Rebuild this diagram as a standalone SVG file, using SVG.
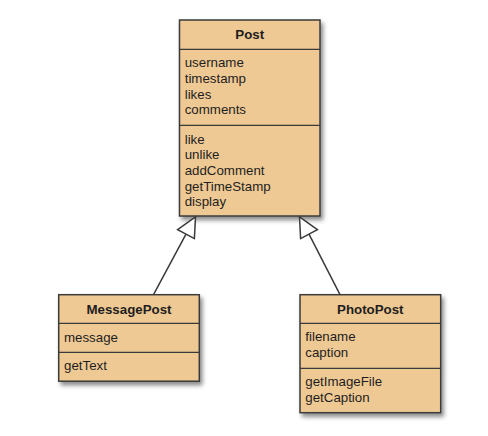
<svg xmlns="http://www.w3.org/2000/svg" width="488" height="436" viewBox="0 0 488 436">
<defs>
<filter id="sh" x="-10%" y="-10%" width="130%" height="130%">
<feDropShadow dx="2.5" dy="3.5" stdDeviation="2.2" flood-color="#000" flood-opacity="0.45"/>
</filter>
</defs>
<style>
.box{fill:#EFC994;stroke:#3a3a3a;stroke-width:1.5}
.div{stroke:#3a3a3a;stroke-width:1.3}
text{font-family:"Liberation Sans",Arial,sans-serif;font-size:13.3px;fill:#1e1e1e}
.t{font-weight:bold;text-anchor:middle}
.edge{stroke:#3a3a3a;stroke-width:1.5;fill:none}
.head{fill:#fff;stroke:#3a3a3a;stroke-width:1.5;stroke-linejoin:miter}
</style>
<rect width="488" height="436" fill="#fff"/>
<g id="Post">
<rect class="box" x="179.5" y="20" width="140.5" height="196" filter="url(#sh)"/>
<line class="div" x1="179.5" y1="49.3" x2="320" y2="49.3"/>
<line class="div" x1="179.5" y1="125.3" x2="320" y2="125.3"/>
<text class="t" x="249.7" y="39.4">Post</text>
<text x="184.7" y="67.2">username</text>
<text x="184.7" y="82.9">timestamp</text>
<text x="184.7" y="98.5">likes</text>
<text x="184.7" y="114.2">comments</text>
<text x="184.7" y="143.5">like</text>
<text x="184.7" y="159.2">unlike</text>
<text x="184.7" y="174.8">addComment</text>
<text x="184.7" y="190.5">getTimeStamp</text>
<text x="184.7" y="206.2">display</text>
</g>
<g id="MessagePost">
<rect class="box" x="58.7" y="294.7" width="140.6" height="86.5" filter="url(#sh)"/>
<line class="div" x1="58.7" y1="323.3" x2="199.3" y2="323.3"/>
<line class="div" x1="58.7" y1="352.3" x2="199.3" y2="352.3"/>
<text class="t" x="129" y="313.7">MessagePost</text>
<text x="64" y="341.5">message</text>
<text x="64" y="370.4">getText</text>
</g>
<g id="PhotoPost">
<rect class="box" x="300" y="294.7" width="140.7" height="118" filter="url(#sh)"/>
<line class="div" x1="300" y1="323.3" x2="440.7" y2="323.3"/>
<line class="div" x1="300" y1="368.3" x2="440.7" y2="368.3"/>
<text class="t" x="370.3" y="313.7">PhotoPost</text>
<text x="305.3" y="341.4">filename</text>
<text x="305.3" y="357">caption</text>
<text x="305.3" y="386.4">getImageFile</text>
<text x="305.3" y="402">getCaption</text>
</g>
<g id="connectors">
<line class="edge" x1="153.5" y1="294.7" x2="186" y2="234.1"/>
<polygon class="head" points="195.5,216.8 177.6,229.6 194.4,238.6"/>
<line class="edge" x1="340" y1="294.7" x2="309" y2="234.1"/>
<polygon class="head" points="299.5,216.8 317.4,229.6 300.6,238.6"/>
</g>
</svg>
